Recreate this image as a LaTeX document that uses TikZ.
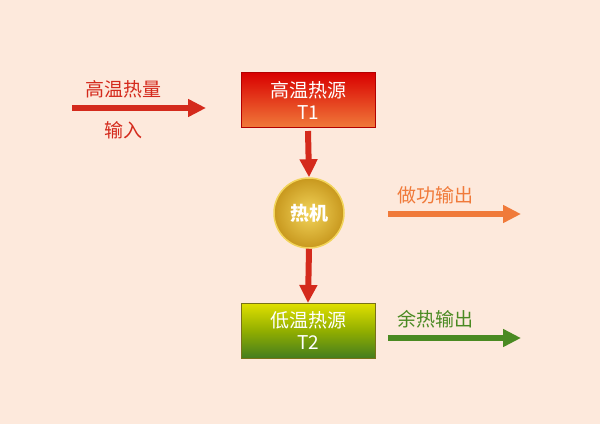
\documentclass[tikz,border=0pt]{standalone}
\usepackage{fontspec}
\newfontfamily\cjk{Noto Sans CJK SC}
\usetikzlibrary{arrows.meta}
\definecolor{bg}{HTML}{FDE9DC}
\definecolor{redA}{HTML}{D42A1C}
\definecolor{orangeA}{HTML}{F07A3A}
\definecolor{greenA}{HTML}{4A8A22}
\definecolor{goldA}{HTML}{F2D45A}
\definecolor{goldB}{HTML}{C8981E}
\tikzset{
  bigarrow/.style={line width=6pt,-{Triangle[length=18pt,width=17pt]}},
  box/.style={minimum width=134pt,minimum height=55pt,inner sep=0pt,align=center,text=white,font=\cjk\fontsize{19}{22}\selectfont},
  lbl/.style={font=\cjk\fontsize{19}{22}\selectfont}
}
\begin{document}
\begin{tikzpicture}[x=1pt,y=-1pt]
\fill[bg] (0,0) rectangle (600,424);
\useasboundingbox (0,0) rectangle (600,424);
\node[box,top color=red!85!black,bottom color=orangeA,draw=red!70!black,line width=1pt] (hot) at (308,100) {高温热源\\T1};
\node[circle,minimum size=70pt,inner sep=0pt,draw=goldA,line width=1.5pt,inner color=goldA,outer color=goldB,text=white,font=\cjk\bfseries\fontsize{19}{22}\selectfont] (eng) at (309,213) {热机};
\node[box,top color=yellow!75!olive,bottom color=greenA!90!black,draw=olive!80!black,line width=1pt] (cold) at (308,331) {低温热源\\T2};
\draw[bigarrow,draw=redA] (hot.south) ++(0,3) coordinate (h1) -- (eng.north);
\draw[bigarrow,draw=redA] (eng.south) -- (cold.north);
\coordinate (a1) at (72,108); \coordinate (a2) at (206,108);
\draw[bigarrow,draw=redA] (a1) -- (a2);
\node[lbl,text=redA] (t1) at (123,89) {高温热量};
\node[lbl,text=redA] (t2) at (123,130) {输入};
\coordinate (b1) at (388,214); \coordinate (b2) at (521,214);
\draw[bigarrow,draw=orangeA] (b1) -- (b2);
\node[lbl,text=orangeA] (t3) at (435,195) {做功输出};
\coordinate (c1) at (388,338); \coordinate (c2) at (521,338);
\draw[bigarrow,draw=greenA] (c1) -- (c2);
\node[lbl,text=greenA] (t4) at (435,319) {余热输出};
\end{tikzpicture}
\end{document}
